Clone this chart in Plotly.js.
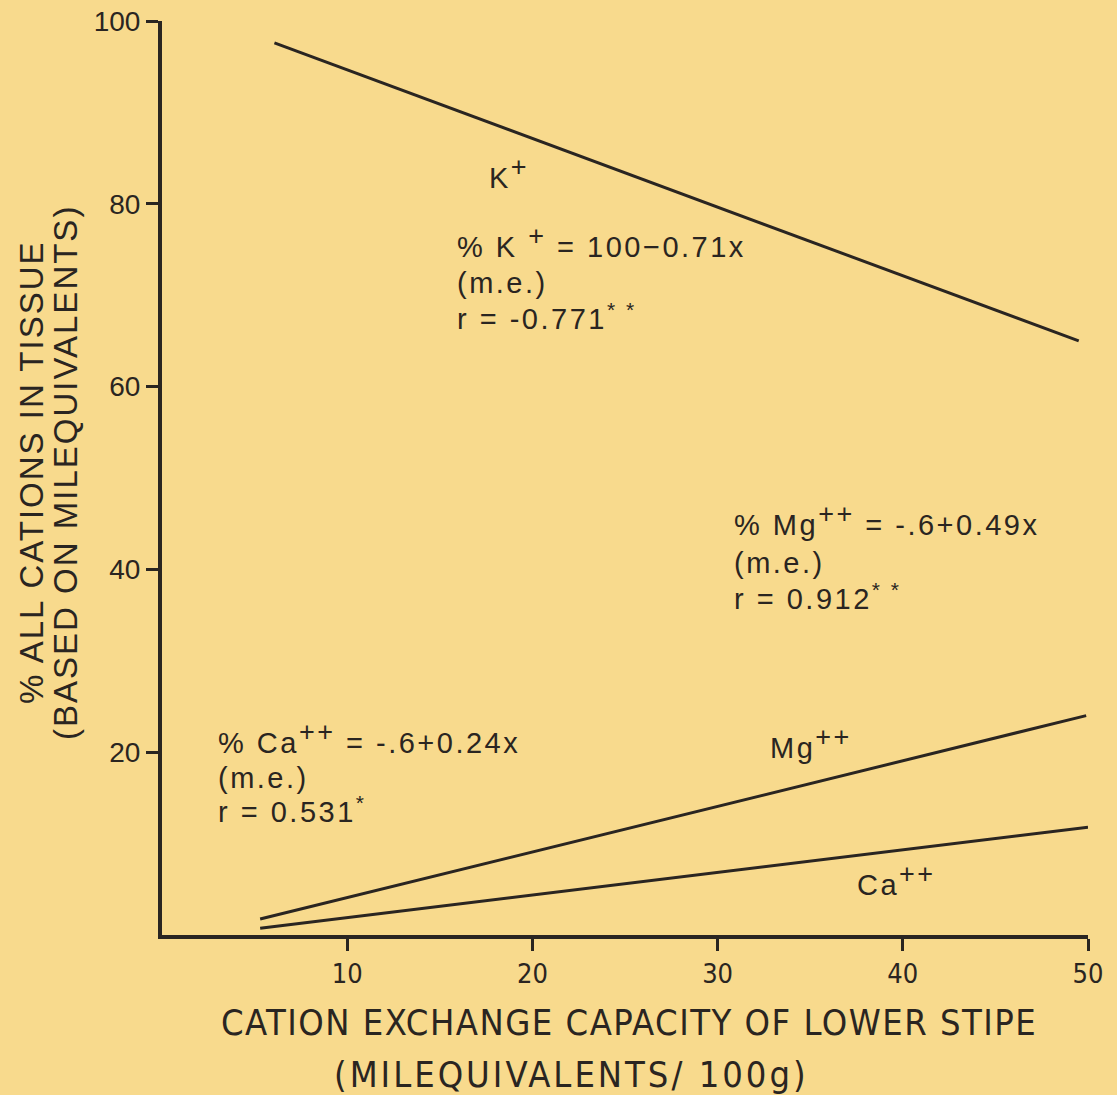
<!DOCTYPE html>
<html>
<head>
<meta charset="utf-8">
<script src="https://cdn.plot.ly/plotly-3.0.1.min.js"></script>
<style>
html,body{margin:0;padding:0;background:#f8da8d;}
#chart{width:1117px;height:1095px;}
</style>
</head>
<body>
<div id="chart"></div>
<script>
// Data (endpoints of the fitted regression lines)
const kX = [6.07, 49.5];
const kY = [97.6, 65.0];
const mgX = [5.3, 49.9];
const mgY = [1.75, 24.0];
const caX = [5.3, 50.0];
const caY = [0.73, 11.8];
const xTicks = [10, 20, 30, 40, 50];
const yTicks = [20, 40, 60, 80, 100];

const ink = '#2a2521';
const bg = '#f8da8d';
const helv = '"Liberation Sans", Arial, Helvetica, sans-serif';
const narrow = '"Liberation Sans Narrow", "DejaVu Sans Condensed", "Liberation Sans", sans-serif';

const lineStyle = {color: ink, width: 3};
const traces = [
  {x: kX, y: kY, mode: 'lines', line: lineStyle, hoverinfo: 'skip'},
  {x: mgX, y: mgY, mode: 'lines', line: lineStyle, hoverinfo: 'skip'},
  {x: caX, y: caY, mode: 'lines', line: lineStyle, hoverinfo: 'skip'}
];

function sp(t, s){ return '<span style="letter-spacing:' + s + 'px">' + t + '</span>'; }
function sup(t){ return '<sup><span style="font-size:27px">' + t + '</span></sup>'; }
function star(t){ return '<sup><span style="font-size:21px">' + t + '</span></sup>'; }
const af = {family: helv, size: 29, color: ink};
function note(x, y, text){
  return {x: x, y: y, xref: 'x', yref: 'y', text: sp(text, 2.5), showarrow: false,
          xanchor: 'left', yanchor: 'middle', font: af};
}

const annotations = [
  note(17.57, 83.4, 'K' + sup('+')),
  note(15.84, 75.8, '% K ' + sup('+') + ' = 100\u22120.71x'),
  note(15.84, 71.3, '(m.e.)'),
  note(15.84, 67.7, 'r = -0.771' + star('* *')),
  note(30.8, 45.4, '% Mg' + sup('++') + ' = -.6+0.49x'),
  note(30.8, 40.7, '(m.e.)'),
  note(30.8, 37.0, 'r = 0.912' + star('* *')),
  note(2.89, 21.6, '% Ca' + sup('++') + ' = -.6+0.24x'),
  note(2.89, 17.2, '(m.e.)'),
  note(2.89, 13.7, 'r = 0.531' + star('*')),
  note(32.7, 21.0, 'Mg' + sup('++')),
  note(37.4, 6.0, 'Ca' + sup('++')),
  // y axis title
  {xref: 'paper', yref: 'paper', x: -0.1404, y: 0.5066, text: sp('% ALL CATIONS IN TISSUE', 2),
   textangle: -90, showarrow: false, xanchor: 'center', yanchor: 'middle',
   font: {family: helv, size: 33, color: ink}},
  {xref: 'paper', yref: 'paper', x: -0.1037, y: 0.5066, text: sp('(BASED ON MILEQUIVALENTS)', 2),
   textangle: -90, showarrow: false, xanchor: 'center', yanchor: 'middle',
   font: {family: helv, size: 33, color: ink}},
  // x axis title
  {xref: 'paper', yref: 'paper', x: 0.5043, y: -0.0952, text: sp('CATION EXCHANGE CAPACITY OF LOWER STIPE', 1.5),
   showarrow: false, xanchor: 'center', yanchor: 'middle',
   font: {family: narrow, size: 36, color: ink}},
  {xref: 'paper', yref: 'paper', x: 0.4417, y: -0.153, text: sp('(MILEQUIVALENTS/ 100g)', 3),
   showarrow: false, xanchor: 'center', yanchor: 'middle',
   font: {family: narrow, size: 36, color: ink}}
];

const layout = {
  width: 1117, height: 1095,
  margin: {l: 162, r: 29, t: 21, b: 160},
  paper_bgcolor: bg, plot_bgcolor: bg,
  showlegend: false,
  xaxis: {
    range: [0, 50], tickvals: xTicks, ticktext: xTicks.map(String),
    showgrid: false, zeroline: false, showline: true, linecolor: ink, linewidth: 4,
    ticks: 'outside', ticklen: 12, tickwidth: 3, tickcolor: ink,
    tickfont: {family: narrow, size: 27, color: ink}, fixedrange: true
  },
  yaxis: {
    range: [0, 100], tickvals: yTicks, ticktext: yTicks.map(String),
    showgrid: false, zeroline: false, showline: true, linecolor: ink, linewidth: 4,
    ticks: 'outside', ticklen: 12, tickwidth: 3, tickcolor: ink,
    tickfont: {family: helv, size: 28, color: ink}, fixedrange: true
  },
  annotations: annotations
};

Plotly.newPlot('chart', traces, layout, {displayModeBar: false, staticPlot: true});
</script>
</body>
</html>
